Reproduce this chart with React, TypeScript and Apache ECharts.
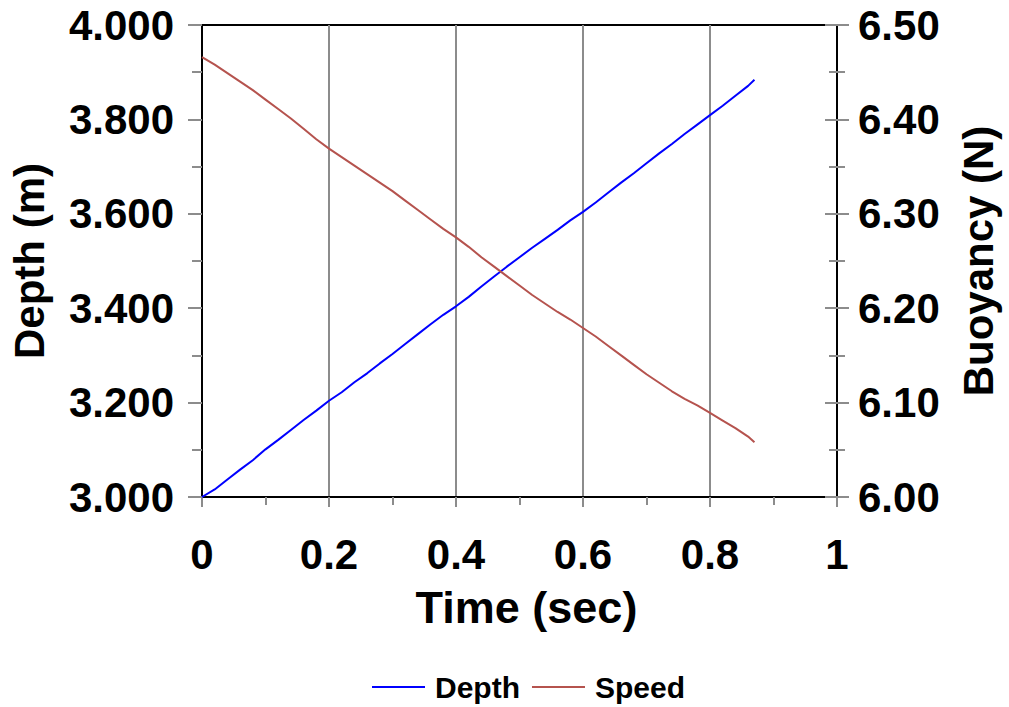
import React, { useEffect, useRef } from "react";
import * as echarts from "echarts";

const timeSec = [0.0, 0.02, 0.04, 0.06, 0.08, 0.1, 0.12, 0.14, 0.16, 0.18, 0.2, 0.22, 0.24, 0.26, 0.28, 0.3, 0.32, 0.34, 0.36, 0.38, 0.4, 0.42, 0.44, 0.46, 0.48, 0.5, 0.52, 0.54, 0.56, 0.58, 0.6, 0.62, 0.64, 0.66, 0.68, 0.7, 0.72, 0.74, 0.76, 0.78, 0.8, 0.82, 0.84, 0.86, 0.87];

const depth = [3.0, 3.016, 3.037, 3.058, 3.078, 3.101, 3.121, 3.142, 3.163, 3.183, 3.204, 3.222, 3.243, 3.262, 3.283, 3.303, 3.324, 3.345, 3.366, 3.386, 3.404, 3.424, 3.446, 3.467, 3.488, 3.508, 3.528, 3.547, 3.566, 3.586, 3.604, 3.624, 3.645, 3.666, 3.686, 3.707, 3.728, 3.748, 3.769, 3.789, 3.809, 3.829, 3.850, 3.871, 3.884];

const speed = [6.466, 6.458, 6.449, 6.440, 6.431, 6.421, 6.411, 6.401, 6.39, 6.379, 6.369, 6.36, 6.351, 6.342, 6.333, 6.324, 6.314, 6.304, 6.294, 6.284, 6.275, 6.265, 6.254, 6.244, 6.234, 6.224, 6.214, 6.205, 6.196, 6.188, 6.179, 6.170, 6.160, 6.150, 6.140, 6.130, 6.121, 6.112, 6.104, 6.097, 6.089, 6.081, 6.073, 6.064, 6.058];

const xTicks = [0, 0.2, 0.4, 0.6, 0.8, 1];

const FONT = "'Liberation Sans', Arial, sans-serif";
const GRAY = "#8c8c8c";

export default function App() {
  const ref = useRef<HTMLDivElement>(null);
  useEffect(() => {
    if (!ref.current) return;
    const chart = echarts.init(ref.current, undefined, { renderer: "svg" });
    const labelStyle = { fontFamily: FONT, fontWeight: "bold" as const, fontSize: 42, color: "#000" };
    chart.setOption({
      animation: false,
      backgroundColor: "#fff",
      grid: { left: 200, right: 172, top: 25, bottom: 210, show: true, borderColor: "#000", borderWidth: 2, backgroundColor: "transparent" },
      legend: {
        bottom: 0,
        left: 367,
        icon: "rect",
        itemWidth: 53,
        itemHeight: 2,
        itemGap: 12,
        textStyle: { fontFamily: FONT, fontWeight: "bold", fontSize: 30, color: "#000", padding: [0, 0, 0, 5] },
        data: ["Depth", "Speed"],
      },
      xAxis: {
        type: "value",
        min: 0,
        max: 1,
        interval: 0.2,
        name: "Time (sec)",
        nameLocation: "middle",
        nameGap: 88,
        nameTextStyle: { ...labelStyle, fontSize: 45, padding: [0, 0, 0, 14] },
        axisLine: { show: true, lineStyle: { color: "#000", width: 2 } },
        axisTick: { show: true, length: 10, lineStyle: { color: GRAY, width: 2 } },
        minorTick: { show: true, splitNumber: 2, length: 8, lineStyle: { color: GRAY, width: 2 } },
        splitLine: { show: true, lineStyle: { color: GRAY, width: 2 } },
        axisLabel: {
          ...labelStyle,
          margin: 36,
          formatter: (v: number) => {
            const t = xTicks.find((x) => Math.abs(x - v) < 1e-9);
            return t === undefined ? "" : String(t);
          },
        },
      },
      yAxis: [
        {
          type: "value",
          min: 3.0,
          max: 4.0,
          interval: 0.2,
          position: "left",
          name: "Depth (m)",
          nameLocation: "middle",
          nameGap: 152,
          nameTextStyle: { ...labelStyle, fontSize: 42 },
          axisLine: { show: true, lineStyle: { color: "#000", width: 2 } },
          axisTick: { show: true, length: 14, lineStyle: { color: GRAY, width: 2 } },
          minorTick: { show: true, splitNumber: 2, length: 10, lineStyle: { color: GRAY, width: 2 } },
          splitLine: { show: false },
          axisLabel: { ...labelStyle, margin: 28, formatter: (v: number) => v.toFixed(3) },
        },
        {
          type: "value",
          min: 6.0,
          max: 6.5,
          interval: 0.1,
          position: "right",
          name: "Buoyancy (N)",
          nameLocation: "middle",
          nameGap: 120,
          nameTextStyle: { ...labelStyle, fontSize: 42 },
          axisLine: { show: true, lineStyle: { color: "#000", width: 2 } },
          axisTick: { show: true, length: 12, lineStyle: { color: GRAY, width: 2 } },
          minorTick: { show: true, splitNumber: 2, length: 8, lineStyle: { color: GRAY, width: 2 } },
          splitLine: { show: false },
          axisLabel: { ...labelStyle, margin: 21, formatter: (v: number) => v.toFixed(2) },
        },
        {
          type: "value",
          min: 6.0,
          max: 6.5,
          interval: 0.1,
          position: "right",
          axisLine: { show: false },
          axisTick: { show: true, inside: true, length: 12, lineStyle: { color: GRAY, width: 2 } },
          minorTick: { show: true, splitNumber: 2, length: 8, lineStyle: { color: GRAY, width: 2 } },
          splitLine: { show: false },
          axisLabel: { show: false },
        },
      ],
      series: [
        {
          name: "Depth",
          type: "line",
          yAxisIndex: 0,
          showSymbol: false,
          symbol: "none",
          lineStyle: { color: "#0000ff", width: 2 },
          itemStyle: { color: "#0000ff" },
          data: timeSec.map((t, i) => [t, depth[i]]),
          z: 3,
        },
        {
          name: "Speed",
          type: "line",
          yAxisIndex: 1,
          showSymbol: false,
          symbol: "none",
          lineStyle: { color: "#b5534e", width: 2 },
          itemStyle: { color: "#b5534e" },
          data: timeSec.map((t, i) => [t, speed[i]]),
          z: 3,
        },
      ],
    });
    return () => chart.dispose();
  }, []);
  return <div ref={ref} style={{ position: "fixed", left: 0, top: 0, width: 1009, height: 707 }} />;
}
